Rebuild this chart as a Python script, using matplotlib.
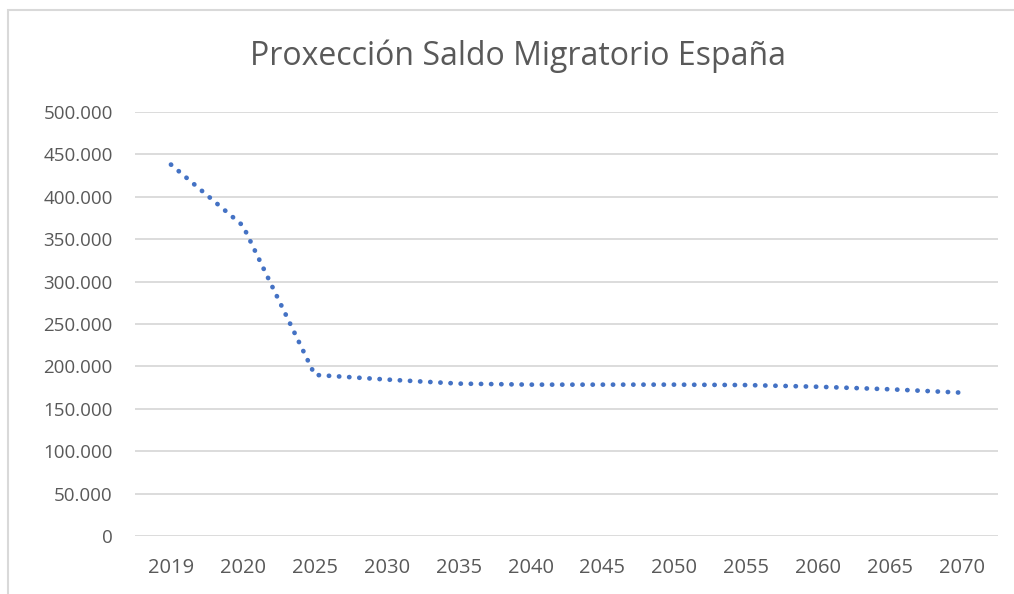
import matplotlib
matplotlib.use("Agg")
from matplotlib import pyplot as plt
from matplotlib.ticker import FuncFormatter
from matplotlib.patches import Rectangle

years = ["2019", "2020", "2025", "2030", "2035", "2040", "2045", "2050",
         "2055", "2060", "2065", "2070"]
saldo = [438000, 366000, 190000, 184500, 179700, 178500, 178500, 178500,
         178000, 176000, 173000, 169000]
yticks = [0, 50000, 100000, 150000, 200000, 250000, 300000, 350000,
          400000, 450000, 500000]

plt.rcParams['font.family'] = ['Open Sans', 'DejaVu Sans']

fig = plt.figure(figsize=(10.14, 5.94), dpi=100)
ax = fig.add_axes([135 / 1014, 1 - 536 / 594, (998 - 135) / 1014, (536 - 112) / 594])

x = list(range(len(years)))
ax.plot(x, saldo, color='#4472C4', linewidth=3.4,
        linestyle=(0, (0.05, 2.1)), dash_capstyle='round')

ax.set_xlim(-0.5, len(years) - 0.5)
ax.set_ylim(0, 500000)
ax.set_xticks(x)
ax.set_xticklabels(years)
ax.set_yticks(yticks)
ax.yaxis.set_major_formatter(FuncFormatter(lambda v, p: f"{int(v):,}".replace(",", ".")))

ax.grid(axis='y', color='#D9D9D9', linewidth=1.3)
ax.set_axisbelow(True)
for s in ax.spines.values():
    s.set_visible(False)
ax.tick_params(axis='both', length=0, labelcolor='#595959')
ax.tick_params(axis='y', pad=16, labelsize=13.5)
ax.tick_params(axis='x', pad=16, labelsize=14.5)

fig.text(518 / 1014, 1 - 56 / 594, "Proxección Saldo Migratorio España",
         ha='center', va='center', fontsize=23, color='#595959')

# chart frame
fig.patches.append(Rectangle((8 / 1014, -0.1), 1.2, 1 - 10 / 594 + 0.1,
                             transform=fig.transFigure, fill=False,
                             edgecolor='#D9D9D9', linewidth=1.5))

fig.savefig("out.png", dpi=100)
